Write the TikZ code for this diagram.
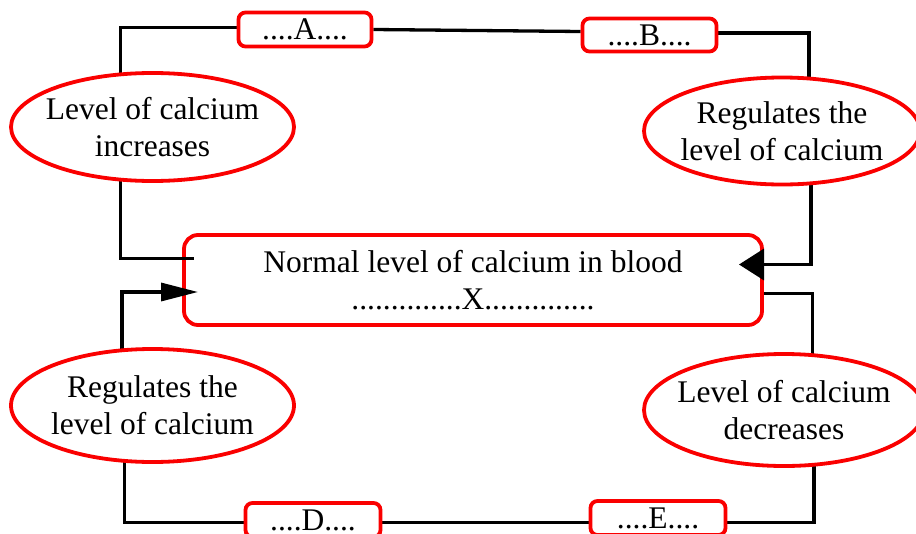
\documentclass[tikz,border=0pt]{standalone}
\usepackage{fontspec}
\setmainfont{Liberation Serif}
\usetikzlibrary{shapes.geometric,arrows.meta}
\pgfdeclarelayer{fg}
\pgfsetlayers{main,fg}
\definecolor{bred}{RGB}{250,0,0}
\tikzset{
  txt/.style={font=\fontsize{31.5}{37}\selectfont, align=center, text=black},
  oval/.style={ellipse, draw=bred, line width=3.8pt, fill=white, inner xsep=-14pt, inner ysep=0pt, txt},
  tag/.style={rectangle, rounded corners=7pt, draw=bred, line width=3.8pt, fill=white, inner sep=0pt, txt},
  link/.style={draw=black, line width=3.3pt},
}
\begin{document}
\begin{tikzpicture}[x=1pt,y=-1pt]
\useasboundingbox (0,0) rectangle (916,533);
\clip (0,0) rectangle (916,533);
\fill[white] (0,0) rectangle (916,533);

\begin{pgfonlayer}{fg}
\node[oval, minimum width=283pt, minimum height=108pt] (e1) at (152.5,127) {Level of calcium\\increases};
\node[oval, minimum width=276pt, minimum height=107pt] (e2) at (782,131) {Regulates the\\level of calcium};
\node[oval, minimum width=283pt, minimum height=113pt] (e3) at (152.5,405.5) {Regulates the\\level of calcium};
\node[oval, minimum width=280pt, minimum height=112pt] (e4) at (784,410) {Level of calcium\\decreases};
\node[tag, minimum width=133pt, minimum height=34pt] (A) at (305,29.5) {....A....};
\node[tag, minimum width=134pt, minimum height=33pt] (B) at (649.5,35) {....B....};
\node[tag, minimum width=135pt, minimum height=34pt] (D) at (313,520) {....D....};
\node[tag, minimum width=135pt, minimum height=34pt] (E) at (658,518) {....E....};
\end{pgfonlayer}

\node[tag, rounded corners=14pt, minimum width=578pt, minimum height=90pt] (c) at (473,280)
  {Normal level of calcium in blood\\..............X..............};

% top-left corner and top line
\coordinate (tl) at (120.5,27.5);
\draw[link] (tl |- e1.center) -- (tl) -- (tl -| A.west);
\draw[link] (A.east) -- ([yshift=3.5pt]B.west);
% top-right corner and arrow into the box
\coordinate (tr) at (809,33);
\coordinate (rin) at (811,264.5);
\coordinate (rtip) at (739,264.5);
\draw[link] ([yshift=2pt]B.east) -- (tr) -- (tr |- e2.center);
\draw[link,-{Triangle[length=25pt,width=31pt]}] (rin |- e2.center) -- (rin) -- (rtip);
% right side, from box down to lower-right ellipse
\coordinate (rout) at (812.5,293.5);
\draw[link] (rout -| c.east) -- (rout) -- (rout |- e4.center);
% bottom line
\coordinate (br) at (814,522.7);
\draw[link] (br |- e4.center) -- (br) -- (br -| E.east);
\draw[link] (br -| E.west) -- (br -| D.east);
\coordinate (bl) at (124.5,522.7);
\draw[link] (bl -| D.west) -- (bl) -- (bl |- e3.center);
% left arrow into the box
\coordinate (lb) at (122,292);
\coordinate (ltip) at (198,292);
\draw[link,-{Triangle[length=37pt,width=18pt]}] (lb |- e3.center) -- (lb) -- (ltip);
% left line from upper-left ellipse to the box
\coordinate (lt) at (120.5,258.3);
\coordinate (lend) at (194,258.3);
\draw[link] (lt |- e1.center) -- (lt) -- (lend);
\end{tikzpicture}
\end{document}
